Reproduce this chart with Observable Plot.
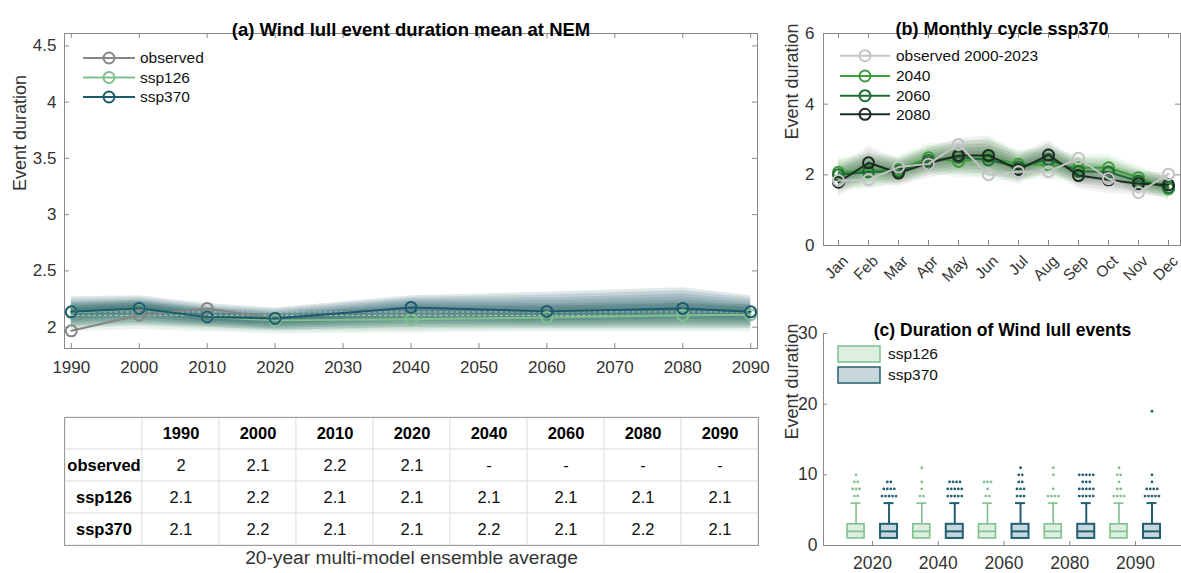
<!DOCTYPE html>
<html><head><meta charset="utf-8">
<script src="https://cdn.jsdelivr.net/npm/d3@7"></script>
<script src="https://cdn.jsdelivr.net/npm/@observablehq/plot@0.6"></script>
<style>
body{margin:0;background:#fff;}
#root{position:relative;width:1181px;height:573px;overflow:hidden;background:#fff;}
.panel{position:absolute;}
</style></head><body><div id="root"></div>
<script>
const FONT = "'Liberation Sans', Arial, Helvetica, sans-serif";

// ---------- Panel (a) data ----------
const decades = [1990, 2000, 2010, 2020, 2040, 2060, 2080, 2090];
const observedMean = [1.967, 2.106, 2.166, 2.08, null, null, null, null];
const ssp126Mean = [2.13, 2.16, 2.09, 2.06, 2.07, 2.086, 2.106, 2.11];
const ssp370Mean = [2.136, 2.166, 2.09, 2.077, 2.175, 2.14, 2.166, 2.136];
const ssp370Upper = [2.27, 2.28, 2.21, 2.17, 2.28, 2.31, 2.35, 2.28];
const ssp370Lower = [2.00, 2.02, 2.00, 1.97, 2.00, 1.99, 1.99, 1.99];
const ssp126Upper = [2.22, 2.24, 2.17, 2.13, 2.18, 2.20, 2.22, 2.20];
const ssp126Lower = [1.96, 1.98, 1.96, 1.94, 1.95, 1.96, 1.96, 1.96];
const refNames = ["ssp370", "ssp126"];
const refValues = [2.135, 2.105];
const xTicksA = [1990, 2000, 2010, 2020, 2030, 2040, 2050, 2060, 2070, 2080, 2090];
const yTicksA = [2, 2.5, 3, 3.5, 4, 4.5];

// ---------- Panel (b) data ----------
const months = ["Jan","Feb","Mar","Apr","May","Jun","Jul","Aug","Sep","Oct","Nov","Dec"];
const monthlyObserved = [1.84, 1.86, 2.22, 2.31, 2.86, 2.00, 2.09, 2.09, 2.47, 1.89, 1.50, 2.02];
const monthly2040 = [2.07, 2.12, 2.15, 2.48, 2.38, 2.50, 2.30, 2.28, 2.20, 2.20, 1.92, 1.60];
const monthly2060 = [2.00, 2.08, 2.10, 2.40, 2.50, 2.42, 2.22, 2.44, 2.10, 2.08, 1.82, 1.65];
const monthly2080 = [1.79, 2.34, 2.05, 2.33, 2.55, 2.55, 2.15, 2.56, 1.98, 1.86, 1.75, 1.72];
const monthlySpread = [0.42, 0.48, 0.38, 0.42, 0.48, 0.55, 0.42, 0.42, 0.38, 0.38, 0.33, 0.33];
const yTicksB = [0, 2, 4, 6];

// ---------- Panel (c) data ----------
const boxYears = ["2020", "2040", "2060", "2080", "2090"];
const boxQ1 = [1, 1, 1, 1, 1];
const boxMedian = [2, 2, 2, 2, 2];
const boxQ3 = [3, 3, 3, 3, 3];
const boxLow = [1, 1, 1, 1, 1];
const boxHigh = [6, 6, 6, 6, 6];
// [year index, value, number of dots]
const outliers126 = [
  [0,10,1],[0,9,2],[0,8,3],[0,7,2],
  [1,11,1],[1,9,1],[1,8,1],[1,7,2],
  [2,9,3],[2,8,1],[2,7,2],
  [3,11,1],[3,10,1],[3,8,1],[3,7,4],
  [4,11,1],[4,10,2],[4,9,1],[4,8,2],[4,7,4]
];
const outliers370 = [
  [0,9,2],[0,8,4],[0,7,5],
  [1,9,4],[1,8,5],[1,7,5],
  [2,11,1],[2,10,2],[2,9,2],[2,8,3],[2,7,3],
  [3,10,5],[3,9,3],[3,8,5],[3,7,5],
  [4,19,1],[4,10,1],[4,9,1],[4,8,4],[4,7,5]
];
const yTicksC = [0, 10, 20, 30];

// ---------- colours ----------
const C_OBS = "#858585", C_126 = "#80c08e", C_370 = "#1c5a6e";
const C_MOBS = "#c4c4c4", C_2040 = "#3d9b3a", C_2060 = "#1f6b37", C_2080 = "#1d2b22";
const AXIS = "#8a8a8a", TXT = "#333";

const root = document.getElementById("root");
function place(el, left, top) {
  const d = document.createElement("div");
  d.className = "panel"; d.style.left = left + "px"; d.style.top = top + "px";
  d.appendChild(el); root.appendChild(d);
}
function addLegend(svg, items, o) {
  const g = d3.select(svg).append("g").attr("font-family", FONT).attr("font-size", o.fontSize)
    .attr("fill", "#111").attr("text-anchor", "start");
  items.forEach((it, i) => {
    const y = o.ys[i];
    g.append("line").attr("x1", o.x0).attr("x2", o.x1).attr("y1", y).attr("y2", y)
      .attr("stroke", it.color).attr("stroke-width", 2);
    g.append("circle").attr("cx", o.xm).attr("cy", y).attr("r", 5.5)
      .attr("fill", "none").attr("stroke", it.color).attr("stroke-width", 2);
    g.append("text").attr("x", o.xt).attr("y", y).attr("dy", "0.35em").attr("text-anchor", "start").text(it.name);
  });
}
const fmtTick = d => String(d);

// ================= Panel (a) =================
{
  const W = 770, H = 400, ML = 64, MR = 13, MT = 33, MB = 52;
  const xDom = [1989, 2091], yDom = [1.81, 4.61];
  const tly = 5 / (H - MT - MB) * (yDom[1] - yDom[0]);
  const tlx = 5 / (W - ML - MR) * (xDom[1] - xDom[0]);
  const series = [
    {name: "observed", values: observedMean, color: C_OBS},
    {name: "ssp126", values: ssp126Mean, color: C_126},
    {name: "ssp370", values: ssp370Mean, color: C_370}
  ];
  const rows = series.flatMap(s => decades.map((yr, i) => ({name: s.name, year: yr, value: s.values[i], color: s.color})))
    .filter(d => d.value != null);
  const layers = [1, 0.85, 0.7, 0.55, 0.4, 0.25];
  const band = (mean, up, lo) => decades.map((yr, i) => ({year: yr, mean: mean[i], up: up[i], lo: lo[i]}));
  const bandMarks = (rws, color, op) => layers.map(f => Plot.areaY(rws, {
    x: "year", y1: d => d.mean - (d.mean - d.lo) * f, y2: d => d.mean + (d.up - d.mean) * f,
    fill: color, fillOpacity: op
  }));
  const refs = refNames.map((n, i) => ({name: n, value: refValues[i]}));
  const p = Plot.plot({
    width: W, height: H, marginLeft: ML, marginRight: MR, marginTop: MT, marginBottom: MB,
    x: {domain: xDom}, y: {domain: yDom},
    style: {fontFamily: FONT, fontSize: "17px", color: TXT, background: "transparent", overflow: "visible"},
    marks: [
      ...bandMarks(band(ssp126Mean, ssp126Upper, ssp126Lower), "#4f9c68", 0.12),
      ...bandMarks(band(ssp370Mean, ssp370Upper, ssp370Lower), "#1a5660", 0.14),
      Plot.ruleY(refs, {y: "value", x1: decades[0], x2: decades[decades.length - 1],
        stroke: d => d.name === "ssp370" ? "#b3c7cc" : "#b9d8c1", strokeDasharray: "3,2.5", strokeWidth: 1}),
      Plot.line(rows, {x: "year", y: "value", z: "name", stroke: "color", strokeWidth: 2}),
      Plot.dot(rows, {x: "year", y: "value", stroke: "color", r: 5.5, strokeWidth: 2, fill: "none"}),
      Plot.frame({stroke: AXIS}),
      Plot.ruleX(xTicksA, {x: d => d, y1: yDom[0], y2: yDom[0] + tly, stroke: AXIS}),
      Plot.ruleX(xTicksA, {x: d => d, y1: yDom[1], y2: yDom[1] - tly, stroke: AXIS}),
      Plot.ruleY(yTicksA, {y: d => d, x1: xDom[0], x2: xDom[0] + tlx, stroke: AXIS}),
      Plot.ruleY(yTicksA, {y: d => d, x1: xDom[1], x2: xDom[1] - tlx, stroke: AXIS}),
      Plot.axisX({ticks: xTicksA, tickSize: 0, tickPadding: 12, tickFormat: fmtTick, label: null, fontSize: 17}),
      Plot.axisY({ticks: yTicksA, tickSize: 0, tickPadding: 8, tickFormat: fmtTick, label: null, fontSize: 17}),
      Plot.text(["Event duration"], {text: d => d, frameAnchor: "left", rotate: -90, dx: -44, fontSize: 18, fill: TXT}),
      Plot.text(["(a) Wind lull event duration mean at NEM"], {text: d => d, frameAnchor: "top", dy: -11, fontSize: 18.5, fontWeight: "bold", fill: "#000"})
    ]
  });
  addLegend(p, series, {x0: 83, x1: 135, xm: 109, xt: 140, ys: [58, 77.5, 97], fontSize: 15.5});
  place(p, 0, 0);
}

// ================= Table =================
{
  const W = 770, H = 173, ML = 64, MR = 12, MT = 17, MB = 28;
  const cols = ["label", ...decades.map(String)];
  const rowKeys = ["hdr", "observed", "ssp126", "ssp370"];
  const rowVals = {observed: observedMean, ssp126: ssp126Mean, ssp370: ssp370Mean};
  const fmt = v => v == null ? "-" : String(Math.round(v * 10) / 10);
  const cells = rowKeys.flatMap(r => cols.map(c => ({r, c})));
  const values = ["observed", "ssp126", "ssp370"].flatMap(r => decades.map((yr, i) => ({r, c: String(yr), t: fmt(rowVals[r][i])})));
  const p = Plot.plot({
    width: W, height: H, marginLeft: ML, marginRight: MR, marginTop: MT, marginBottom: MB,
    x: {type: "band", domain: cols, padding: 0, axis: null},
    y: {type: "band", domain: rowKeys, padding: 0, axis: null},
    style: {fontFamily: FONT, fontSize: "17px", color: "#111", background: "transparent", overflow: "visible"},
    marks: [
      Plot.cell(cells, {x: "c", y: "r", fill: "white", stroke: "#e1e1e1", strokeWidth: 1}),
      Plot.frame({stroke: "#9a9a9a"}),
      Plot.text(decades, {x: d => String(d), y: () => "hdr", text: d => String(d), fontWeight: "bold", fontSize: 16.5, fill: "#000"}),
      Plot.text(["observed", "ssp126", "ssp370"], {x: () => "label", y: d => d, text: d => d, fontWeight: "bold", fontSize: 16.5, fill: "#000"}),
      Plot.text(values, {x: "c", y: "r", text: "t", fontSize: 16.5, fill: "#111"}),
      Plot.text(["20-year multi-model ensemble average"], {text: d => d, frameAnchor: "bottom", dy: 18, fontSize: 19.2, fill: TXT})
    ]
  });
  place(p, 0, 400);
}

// ================= Panel (b) =================
{
  const W = 411, H = 300, ML = 53, MR = 1, MT = 33, MB = 55;
  const xDom = [0.5, 12.4], yDom = [0, 6];
  const tly = 5 / (H - MT - MB) * (yDom[1] - yDom[0]);
  const tlx = 5 / (W - ML - MR) * (xDom[1] - xDom[0]);
  const mIdx = months.map((m, i) => i + 1);
  const future = [
    {name: "2040", values: monthly2040, color: C_2040, band: "#4aa345"},
    {name: "2060", values: monthly2060, color: C_2060, band: "#2f7a3c"},
    {name: "2080", values: monthly2080, color: C_2080, band: "#3a453a"}
  ];
  const layers = [1, 0.8, 0.6, 0.4, 0.2];
  const bands = future.flatMap(s => layers.map(f => Plot.areaY(months, {
    x: (d, i) => i + 1, y1: (d, i) => s.values[i] - monthlySpread[i] * f, y2: (d, i) => s.values[i] + monthlySpread[i] * f,
    fill: s.band, fillOpacity: 0.07
  })));
  const allSeries = [...future, {name: "observed 2000-2023", values: monthlyObserved, color: C_MOBS}];
  const lineMarks = allSeries.flatMap(s => [
    Plot.line(months, {x: (d, i) => i + 1, y: (d, i) => s.values[i], stroke: s.color, strokeWidth: 2}),
    Plot.dot(months, {x: (d, i) => i + 1, y: (d, i) => s.values[i], stroke: s.color, r: 5.5, strokeWidth: 2, fill: "none"})
  ]);
  const p = Plot.plot({
    width: W, height: H, marginLeft: ML, marginRight: MR, marginTop: MT, marginBottom: MB,
    x: {domain: xDom, axis: null}, y: {domain: yDom},
    style: {fontFamily: FONT, fontSize: "17px", color: TXT, background: "transparent", overflow: "visible"},
    marks: [
      ...bands,
      ...lineMarks,
      Plot.frame({stroke: AXIS}),
      Plot.ruleX(mIdx, {x: d => d, y1: yDom[0], y2: yDom[0] + tly, stroke: AXIS}),
      Plot.ruleX(mIdx, {x: d => d, y1: yDom[1], y2: yDom[1] - tly, stroke: AXIS}),
      Plot.ruleY(yTicksB, {y: d => d, x1: xDom[0], x2: xDom[0] + tlx, stroke: AXIS}),
      Plot.ruleY(yTicksB, {y: d => d, x1: xDom[1], x2: xDom[1] - tlx, stroke: AXIS}),
      Plot.axisY({ticks: yTicksB, tickSize: 0, tickPadding: 9, tickFormat: fmtTick, label: null, fontSize: 17}),
      Plot.text(months, {x: (d, i) => i + 1, y: () => 0, text: d => d, rotate: -45, textAnchor: "end", dx: 7, dy: 13, fontSize: 15.5, fill: TXT}),
      Plot.text(["Event duration"], {text: d => d, frameAnchor: "left", rotate: -90, dx: -31, fontSize: 18, fill: TXT}),
      Plot.text(["(b) Monthly cycle ssp370"], {text: d => d, frameAnchor: "top", dy: -11, fontSize: 18, fontWeight: "bold", fill: "#000"})
    ]
  });
  addLegend(p, [allSeries[3], allSeries[0], allSeries[1], allSeries[2]],
    {x0: 70, x1: 120, xm: 95, xt: 126, ys: [55.7, 76, 95.7, 114.3], fontSize: 15.5});
  place(p, 770, 0);
}

// ================= Panel (c) =================
{
  const W = 411, H = 273, ML = 53, MR = 0, MT = 33, MB = 28;
  const xDom = [0.254, 5.7], yDom = [0, 30];
  const pxX = (xDom[1] - xDom[0]) / (W - ML - MR);
  const tly = 4 / (H - MT - MB) * (yDom[1] - yDom[0]);
  const tlx = 4 * pxX;
  const bw = 17 * pxX, off = 16.5 * pxX, cap = 5 * pxX, jit = 3.5 * pxX;
  const gIdx = boxYears.map((y, i) => i + 1);
  const series = [
    {name: "ssp126", sign: -1, stroke: C_126, fill: "#dcefe0", outl: outliers126, sw: 1.6},
    {name: "ssp370", sign: 1, stroke: "#235f73", fill: "#c8d7dc", outl: outliers370, sw: 2}
  ];
  const boxMarks = series.flatMap(s => {
    const rows = boxYears.map((y, i) => ({pos: i + 1 + s.sign * off, q1: boxQ1[i], med: boxMedian[i], q3: boxQ3[i], lo: boxLow[i], hi: boxHigh[i]}));
    const dots = s.outl.flatMap(([g, v, n]) => d3.range(n).map(k => ({x: g + 1 + s.sign * off + (k - (n - 1) / 2) * jit, v})));
    return [
      Plot.ruleX(rows, {x: "pos", y1: "q3", y2: "hi", stroke: s.stroke, strokeWidth: s.sw}),
      Plot.ruleX(rows, {x: "pos", y1: "lo", y2: "q1", stroke: s.stroke, strokeWidth: s.sw}),
      Plot.ruleY(rows, {y: "hi", x1: d => d.pos - cap, x2: d => d.pos + cap, stroke: s.stroke, strokeWidth: s.sw}),
      Plot.rect(rows, {x1: d => d.pos - bw / 2, x2: d => d.pos + bw / 2, y1: "q1", y2: "q3", fill: s.fill, stroke: s.stroke, strokeWidth: s.sw}),
      Plot.ruleY(rows, {y: "med", x1: d => d.pos - bw / 2, x2: d => d.pos + bw / 2, stroke: s.stroke, strokeWidth: s.sw}),
      Plot.dot(dots, {x: "x", y: "v", r: 1.4, fill: s.stroke, stroke: "none"})
    ];
  });
  const p = Plot.plot({
    width: W, height: H, marginLeft: ML, marginRight: MR, marginTop: MT, marginBottom: MB,
    x: {domain: xDom}, y: {domain: yDom},
    style: {fontFamily: FONT, fontSize: "17.5px", color: TXT, background: "transparent", overflow: "visible"},
    marks: [
      ...boxMarks,
      Plot.ruleX([xDom[0]], {x: d => d, y1: yDom[0], y2: yDom[1], stroke: AXIS}),
      Plot.ruleY([yDom[0]], {y: d => d, stroke: AXIS}),
      Plot.ruleX(gIdx, {x: d => d, y1: yDom[0], y2: yDom[0] + tly, stroke: AXIS}),
      Plot.ruleY(yTicksC, {y: d => d, x1: xDom[0], x2: xDom[0] + tlx, stroke: AXIS}),
      Plot.axisX({ticks: gIdx, tickSize: 0, tickPadding: 11, tickFormat: i => boxYears[i - 1], label: null, fontSize: 17.5}),
      Plot.axisY({ticks: yTicksC, tickSize: 0, tickPadding: 6, tickFormat: fmtTick, label: null, fontSize: 17.5}),
      Plot.text(["Event duration"], {text: d => d, frameAnchor: "left", rotate: -90, dx: -31, fontSize: 18, fill: TXT}),
      Plot.text(["(c) Duration of Wind lull events"], {text: d => d, frameAnchor: "top", dy: -10, fontSize: 17.5, fontWeight: "bold", fill: "#000"})
    ]
  });
  const g = d3.select(p).append("g").attr("font-family", FONT).attr("font-size", 15.5).attr("fill", "#111").attr("text-anchor", "start");
  series.forEach((s, i) => {
    const y = 46 + i * 21;
    g.append("rect").attr("x", 68).attr("y", y).attr("width", 42).attr("height", 16)
      .attr("fill", s.fill).attr("stroke", s.stroke).attr("stroke-width", 1.5);
    g.append("text").attr("x", 118).attr("y", y + 8).attr("dy", "0.35em").attr("text-anchor", "start").text(s.name);
  });
  place(p, 770, 300);
}
</script></body></html>
